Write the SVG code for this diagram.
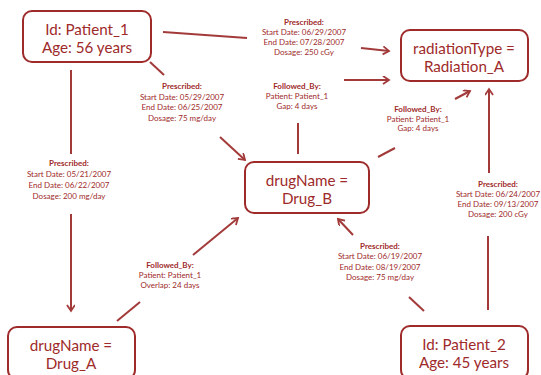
<svg xmlns="http://www.w3.org/2000/svg" width="541" height="375" viewBox="0 0 541 375">
<defs>
<marker id="arr" markerWidth="10" markerHeight="10" refX="7" refY="4" orient="auto" markerUnits="userSpaceOnUse">
<path d="M1,0 L7,4 L1,8" fill="none" stroke="#a33a3a" stroke-width="1.8"/>
</marker>
<style>
.box{fill:#fff;stroke:#9e2a2a;stroke-width:2}
.nt{font-family:Lato,"Liberation Sans",sans-serif;font-size:15.2px;fill:#9e2a2a;text-anchor:middle}
.ln{stroke:#a33a3a;stroke-width:2;fill:none}
.lb{font-family:Lato,"Liberation Sans",sans-serif;font-size:8px;fill:#9e2a2a;text-anchor:middle}
.lb .h{font-weight:bold}
</style>
</defs>
<rect width="541" height="375" fill="#fff"/>
<g id="connectors">
<!-- Patient_1 -> Radiation_A -->
<line class="ln" x1="163" y1="32" x2="247" y2="38"/>
<line class="ln" x1="361" y1="48" x2="389" y2="51" marker-end="url(#arr)"/>
<text class="lb" x="304" y="25"><tspan class="h" x="304">Prescribed:</tspan><tspan x="304" dy="10">Start Date: 06/29/2007</tspan><tspan x="304" dy="10">End Date: 07/28/2007</tspan><tspan x="304" dy="10">Dosage: 250 cGy</tspan></text>
<!-- Patient_1 -> Drug_B -->
<line class="ln" x1="150" y1="62" x2="164" y2="75"/>
<line class="ln" x1="220" y1="137" x2="245" y2="160" marker-end="url(#arr)"/>
<text class="lb" x="182" y="89"><tspan class="h" x="182">Prescribed:</tspan><tspan x="182" dy="10.5">Start Date: 05/29/2007</tspan><tspan x="182" dy="10.5">End Date: 06/25/2007</tspan><tspan x="182" dy="10.5">Dosage: 75 mg/day</tspan></text>
<!-- Patient_1 -> Drug_A -->
<line class="ln" x1="71" y1="70" x2="71" y2="154"/>
<line class="ln" x1="71" y1="214" x2="71" y2="311" marker-end="url(#arr)"/>
<text class="lb" x="69" y="166"><tspan class="h" x="69">Prescribed:</tspan><tspan x="69" dy="11">Start Date: 05/21/2007</tspan><tspan x="69" dy="11">End Date: 06/22/2007</tspan><tspan x="69" dy="11">Dosage: 200 mg/day</tspan></text>
<!-- Drug_A -> Drug_B -->
<line class="ln" x1="117" y1="321" x2="140" y2="302"/>
<line class="ln" x1="193" y1="255" x2="238" y2="218" marker-end="url(#arr)"/>
<text class="lb" x="170" y="268"><tspan class="h" x="170">Followed_By:</tspan><tspan x="170" dy="10">Patient: Patient_1</tspan><tspan x="170" dy="10">Overlap: 24 days</tspan></text>
<!-- Drug_B -> Radiation_A (top) -->
<line class="ln" x1="298" y1="154" x2="298" y2="123"/>
<line class="ln" x1="344" y1="80" x2="389" y2="80" marker-end="url(#arr)"/>
<text class="lb" x="297" y="89"><tspan class="h" x="297">Followed_By:</tspan><tspan x="297" dy="10">Patient: Patient_1</tspan><tspan x="297" dy="10">Gap: 4 days</tspan></text>
<!-- Drug_B -> Radiation_A (right) -->
<line class="ln" x1="378" y1="157" x2="395" y2="148"/>
<line class="ln" x1="455" y1="99" x2="470" y2="91" marker-end="url(#arr)"/>
<text class="lb" x="418" y="112"><tspan class="h" x="418">Followed_By:</tspan><tspan x="418" dy="9.5">Patient: Patient_1</tspan><tspan x="418" dy="9.5">Gap: 4 days</tspan></text>
<!-- Patient_2 -> Radiation_A -->
<line class="ln" x1="488" y1="310" x2="488" y2="236"/>
<line class="ln" x1="489" y1="173" x2="489" y2="89" marker-end="url(#arr)"/>
<text class="lb" x="498" y="187"><tspan class="h" x="498">Prescribed:</tspan><tspan x="498" dy="10">Start Date: 06/24/2007</tspan><tspan x="498" dy="10">End Date: 09/13/2007</tspan><tspan x="498" dy="10">Dosage: 200 cGy</tspan></text>
<!-- Patient_2 -> Drug_B -->
<line class="ln" x1="424" y1="311" x2="409" y2="297"/>
<line class="ln" x1="353" y1="235" x2="338" y2="219" marker-end="url(#arr)"/>
<text class="lb" x="380" y="249"><tspan class="h" x="380">Prescribed:</tspan><tspan x="380" dy="10.3">Start Date: 06/19/2007</tspan><tspan x="380" dy="10.3">End Date: 08/19/2007</tspan><tspan x="380" dy="10.3">Dosage: 75 mg/day</tspan></text>
</g>
<g id="patient1">
<rect class="box" x="23" y="11" width="128" height="51" rx="9"/>
<text class="nt" x="87" y="35">Id: Patient_1</text>
<text class="nt" x="87" y="53">Age: 56 years</text>
</g>
<g id="radiationA">
<rect class="box" x="401" y="30" width="127" height="51" rx="9"/>
<text class="nt" x="464" y="54">radiationType =</text>
<text class="nt" x="464" y="72">Radiation_A</text>
</g>
<g id="drugB">
<rect class="box" x="245" y="162" width="124" height="51" rx="9"/>
<text class="nt" x="307" y="186">drugName =</text>
<text class="nt" x="307" y="204">Drug_B</text>
</g>
<g id="drugA">
<rect class="box" x="8" y="327" width="127" height="52" rx="9"/>
<text class="nt" x="71" y="351">drugName =</text>
<text class="nt" x="71" y="369">Drug_A</text>
</g>
<g id="patient2">
<rect class="box" x="401" y="326" width="127" height="53" rx="9"/>
<text class="nt" x="464" y="350">Id: Patient_2</text>
<text class="nt" x="464" y="368">Age: 45 years</text>
</g>
</svg>
